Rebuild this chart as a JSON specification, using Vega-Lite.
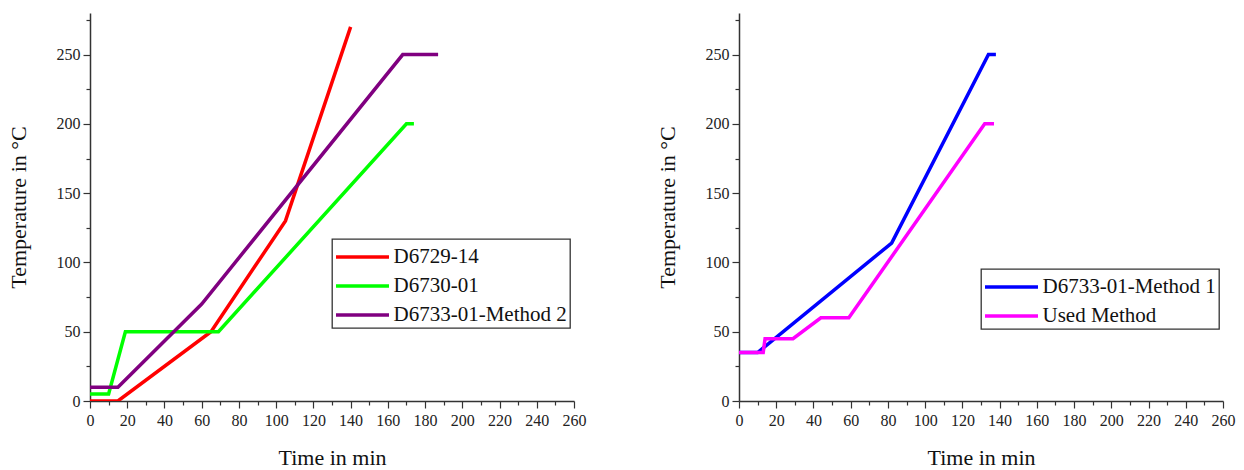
{
  "$schema": "https://vega.github.io/schema/vega-lite/v6.json",
  "padding": {"left": 7, "top": 11, "right": 5, "bottom": 0},
  "background": "white",
  "spacing": 165,
  "bounds": "flush",
  "config": {
    "font": "Liberation Serif",
    "view": {"stroke": null},
    "axis": {
      "domainColor": "#333",
      "domainWidth": 1.5,
      "tickColor": "#333",
      "tickWidth": 1.2,
      "labelColor": "#222",
      "labelFont": "Liberation Serif",
      "labelFontSize": 16,
      "titleFont": "Liberation Serif",
      "titleFontSize": 22,
      "titleFontWeight": "normal",
      "titleColor": "#111",
      "grid": false,
      "labelOverlap": false,
      "labelBound": false,
      "labelFlush": false
    },
    "legend": {
      "orient": "none",
      "title": null,
      "strokeColor": "#333",
      "strokeWidth": 1.3,
      "fillColor": "white",
      "padding": 3,
      "symbolType": "M-2,0H2",
      "symbolStrokeWidth": 3.5,
      "symbolSize": 702,
      "symbolOffset": 12.5,
      "labelOffset": 16,
      "labelFont": "Liberation Serif",
      "labelFontSize": 21,
      "labelColor": "#111",
      "rowPadding": 4,
      "labelLimit": 400
    }
  },
  "datasets": {
    "left": [
      {"series": "D6729-14", "i": 0, "t": 0, "temp": 0},
      {"series": "D6729-14", "i": 1, "t": 15, "temp": 0},
      {"series": "D6729-14", "i": 2, "t": 65, "temp": 50},
      {"series": "D6729-14", "i": 3, "t": 105, "temp": 130},
      {"series": "D6729-14", "i": 4, "t": 140, "temp": 270},
      {"series": "D6730-01", "i": 0, "t": 0, "temp": 5},
      {"series": "D6730-01", "i": 1, "t": 10, "temp": 5},
      {"series": "D6730-01", "i": 2, "t": 19, "temp": 50},
      {"series": "D6730-01", "i": 3, "t": 69, "temp": 50},
      {"series": "D6730-01", "i": 4, "t": 170, "temp": 200},
      {"series": "D6730-01", "i": 5, "t": 174, "temp": 200},
      {"series": "D6733-01-Method 2", "i": 0, "t": 0, "temp": 10},
      {"series": "D6733-01-Method 2", "i": 1, "t": 15, "temp": 10},
      {"series": "D6733-01-Method 2", "i": 2, "t": 60, "temp": 70},
      {"series": "D6733-01-Method 2", "i": 3, "t": 168, "temp": 250},
      {"series": "D6733-01-Method 2", "i": 4, "t": 187, "temp": 250}
    ],
    "right": [
      {"series": "D6733-01-Method 1", "i": 0, "t": 0, "temp": 35},
      {"series": "D6733-01-Method 1", "i": 1, "t": 10, "temp": 35},
      {"series": "D6733-01-Method 1", "i": 2, "t": 82, "temp": 114},
      {"series": "D6733-01-Method 1", "i": 3, "t": 134, "temp": 250},
      {"series": "D6733-01-Method 1", "i": 4, "t": 138, "temp": 250},
      {"series": "Used Method", "i": 0, "t": 0, "temp": 35},
      {"series": "Used Method", "i": 1, "t": 13, "temp": 35},
      {"series": "Used Method", "i": 2, "t": 14, "temp": 45},
      {"series": "Used Method", "i": 3, "t": 29, "temp": 45},
      {"series": "Used Method", "i": 4, "t": 44, "temp": 60},
      {"series": "Used Method", "i": 5, "t": 59, "temp": 60},
      {"series": "Used Method", "i": 6, "t": 132, "temp": 200},
      {"series": "Used Method", "i": 7, "t": 137, "temp": 200}
    ]
  },
  "hconcat": [
    {
      "width": 484,
      "height": 388,
      "data": {"name": "left"},
      "mark": {"type": "line", "strokeWidth": 3.5, "clip": true},
      "encoding": {
        "x": {
          "field": "t", "type": "quantitative",
          "scale": {"domain": [0, 260], "nice": false, "zero": false},
          "axis": {
            "title": "Time in min",
            "titlePadding": 19,
            "values": [0,10,20,30,40,50,60,70,80,90,100,110,120,130,140,150,160,170,180,190,200,210,220,230,240,250,260],
            "labelExpr": "datum.value % 20 === 0 ? datum.label : ''",
            "tickSize": {"condition": {"test": "datum.value % 20 === 0", "value": 7}, "value": 4},
            "labelPadding": 4
          }
        },
        "y": {
          "field": "temp", "type": "quantitative",
          "scale": {"domain": [0, 280], "nice": false},
          "axis": {
            "title": "Temperature in °C",
            "titlePadding": 26,
            "values": [0,25,50,75,100,125,150,175,200,225,250,275],
            "labelExpr": "datum.value % 50 === 0 ? datum.label : ''",
            "tickSize": {"condition": {"test": "datum.value % 50 === 0", "value": 7}, "value": 4},
            "labelPadding": 3
          }
        },
        "color": {
          "field": "series", "type": "nominal",
          "scale": {"domain": ["D6729-14", "D6730-01", "D6733-01-Method 2"], "range": ["#ff0000", "#00ff00", "#800080"]},
          "legend": {"legendX": 242, "legendY": 226}
        },
        "order": {"field": "i", "type": "quantitative"}
      }
    },
    {
      "width": 484,
      "height": 388,
      "data": {"name": "right"},
      "mark": {"type": "line", "strokeWidth": 3.5, "clip": true},
      "encoding": {
        "x": {
          "field": "t", "type": "quantitative",
          "scale": {"domain": [0, 260], "nice": false, "zero": false},
          "axis": {
            "title": "Time in min",
            "titlePadding": 19,
            "values": [0,10,20,30,40,50,60,70,80,90,100,110,120,130,140,150,160,170,180,190,200,210,220,230,240,250,260],
            "labelExpr": "datum.value % 20 === 0 ? datum.label : ''",
            "tickSize": {"condition": {"test": "datum.value % 20 === 0", "value": 7}, "value": 4},
            "labelPadding": 4
          }
        },
        "y": {
          "field": "temp", "type": "quantitative",
          "scale": {"domain": [0, 280], "nice": false},
          "axis": {
            "title": "Temperature in °C",
            "titlePadding": 26,
            "values": [0,25,50,75,100,125,150,175,200,225,250,275],
            "labelExpr": "datum.value % 50 === 0 ? datum.label : ''",
            "tickSize": {"condition": {"test": "datum.value % 50 === 0", "value": 7}, "value": 4},
            "labelPadding": 3
          }
        },
        "color": {
          "field": "series", "type": "nominal",
          "scale": {"domain": ["D6733-01-Method 1", "Used Method"], "range": ["#0000ff", "#ff00ff"]},
          "legend": {"legendX": 242, "legendY": 256}
        },
        "order": {"field": "i", "type": "quantitative"}
      }
    }
  ],
  "resolve": {"scale": {"color": "independent"}, "legend": {"color": "independent"}}
}
